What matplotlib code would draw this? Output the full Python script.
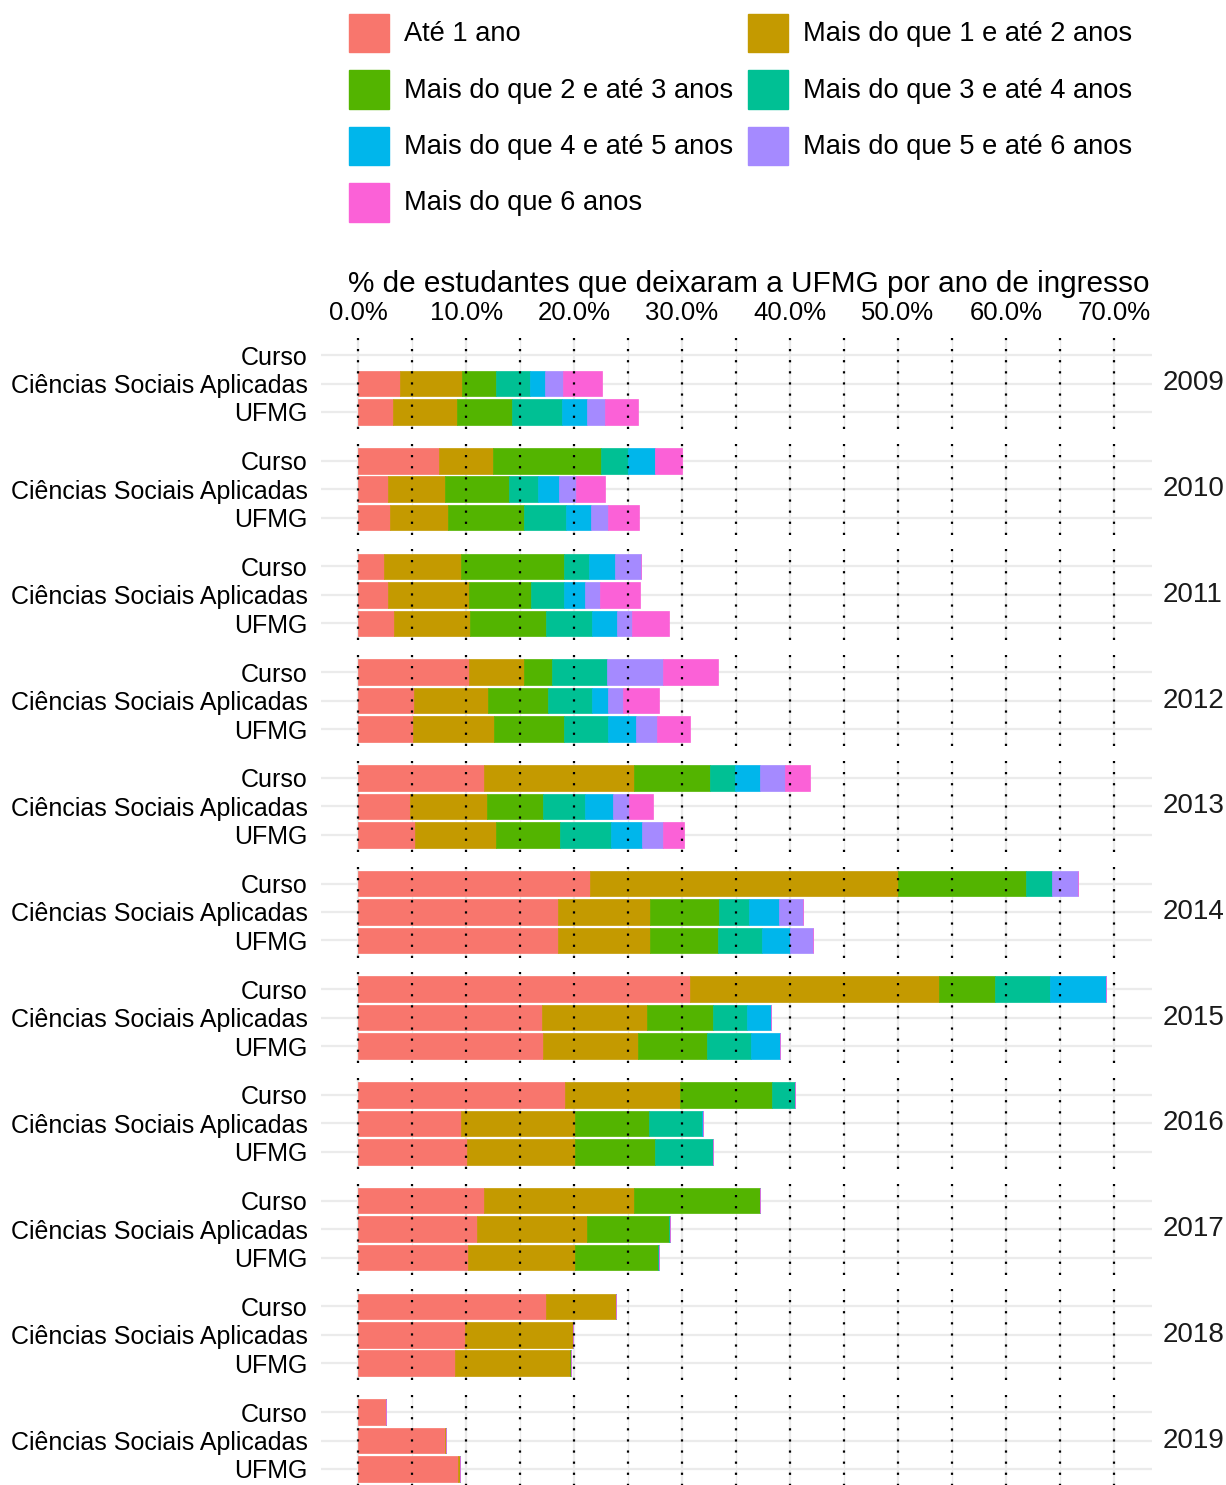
import numpy as np
import matplotlib
matplotlib.use("Agg")
import matplotlib.pyplot as plt
from matplotlib.patches import Rectangle

plt.rcParams['font.family'] = ['Liberation Sans', 'DejaVu Sans']

nan = np.nan

anos = [2009, 2010, 2011, 2012, 2013, 2014, 2015, 2016, 2017, 2018, 2019]
grupos = ["Curso", "Ciências Sociais Aplicadas", "UFMG"]
faixas = ["Até 1 ano", "Mais do que 1 e até 2 anos", "Mais do que 2 e até 3 anos",
          "Mais do que 3 e até 4 anos", "Mais do que 4 e até 5 anos",
          "Mais do que 5 e até 6 anos", "Mais do que 6 anos"]
cores = ["#F8766D", "#C49A00", "#53B400", "#00C094", "#00B6EB", "#A58AFF", "#FB61D7"]

# % por ano de ingresso; ordem: (Curso, CSA, UFMG) para cada ano
ate_1 = [nan, 3.86, 3.21,  7.50, 2.75, 2.93,  2.38, 2.75, 3.30,  10.26, 5.15, 5.06,
         11.63, 4.78, 5.25,  21.43, 18.49, 18.49,  30.77, 17.01, 17.10,
         19.15, 9.51, 10.09,  11.63, 10.99, 10.15,  17.39, 9.88, 8.95,  2.56, 8.02, 9.23]
de_1_a_2 = [nan, 5.74, 5.93,  5.00, 5.28, 5.37,  7.14, 7.50, 7.04,  5.13, 6.85, 7.50,
            13.95, 7.13, 7.50,  28.57, 8.52, 8.52,  23.08, 9.72, 8.80,
            10.64, 10.55, 9.97,  13.95, 10.19, 9.91,  6.52, 10.00, 10.65,  0, 0.15, 0.15]
de_2_a_3 = [nan, 3.15, 5.06,  10.00, 5.96, 7.04,  9.52, 5.74, 7.04,  2.56, 5.56, 6.48,
            6.98, 5.22, 5.92,  11.90, 6.39, 6.29,  5.13, 6.11, 6.38,
            8.51, 6.85, 7.41,  11.63, 7.59, 7.68,  0, 0, 0.10,  0, 0, 0]
de_3_a_4 = [nan, 3.15, 4.66,  2.50, 2.65, 3.89,  2.38, 3.05, 4.26,  5.13, 4.07, 4.07,
            2.33, 3.89, 4.72,  2.38, 2.80, 4.08,  5.13, 3.15, 4.14,
            2.13, 4.91, 5.43,  0, 0.15, 0.10,  0, 0, 0,  0, 0, 0]
de_4_a_5 = [nan, 1.39, 2.31,  2.50, 1.94, 2.31,  2.38, 1.95, 2.31,  0, 1.48, 2.59,
            2.33, 2.56, 2.87,  0, 2.78, 2.62,  5.13, 2.28, 2.65,
            0, 0.10, 0,  0, 0, 0,  0, 0, 0,  0, 0, 0]
de_5_a_6 = [nan, 1.67, 1.73,  0, 1.57, 1.57,  2.38, 1.39, 1.39,  5.13, 1.39, 1.98,
            2.33, 1.51, 1.98,  2.38, 2.22, 2.16,  0, 0, 0,
            0, 0, 0,  0, 0, 0,  0, 0, 0,  0, 0, 0]
mais_6 = [nan, 3.61, 3.00,  2.50, 2.69, 2.87,  0, 3.70, 3.43,  5.13, 3.33, 3.02,
          2.33, 2.19, 1.91,  0, 0, 0,  0, 0, 0,
          0, 0, 0,  0, 0, 0,  0, 0, 0,  0, 0, 0]

series = [ate_1, de_1_a_2, de_2_a_3, de_3_a_4, de_4_a_5, de_5_a_6, mais_6]
ticks_x = [0, 10, 20, 30, 40, 50, 60, 70]

W, H = 1226, 1485
fig = plt.figure(figsize=(W / 100, H / 100), dpi=100)
fs = 18

px_left, px_w = 320.5, 831
panel_h, passo, topo0 = 91, 105.7, 338

for i, ano in enumerate(anos):
    top = topo0 + i * passo
    ax = fig.add_axes([px_left / W, 1 - (top + panel_h) / H, px_w / W, panel_h / H])
    ax.set_xlim(-3.5, 73.5)
    ax.set_ylim(3.6, 0.4)
    for s in ax.spines.values():
        s.set_visible(False)
    for x in range(0, 75, 5):
        ax.axvline(x, color="#EBEBEB", lw=1.6 if x % 10 == 0 else 1.0, zorder=0)
    for y in (1, 2, 3):
        ax.axhline(y, color="#EBEBEB", lw=1.6, zorder=0)

    ypos = np.array([1, 2, 3])
    left = np.zeros(3)
    for vals, cor in zip(series, cores):
        v = np.array(vals[3 * i:3 * i + 3], dtype=float)
        ok = ~np.isnan(v)
        ax.barh(ypos[ok], v[ok], left=left[ok], height=0.9, color=cor,
                edgecolor=cor, lw=0.5, zorder=2)
        left = left + np.nan_to_num(v)

    for x in range(0, 75, 5):
        ax.axvline(x, color="black", lw=1.6, ls=(0, (1, 4)), zorder=3)

    ax.set_yticks([1, 2, 3])
    ax.set_yticklabels(grupos, fontsize=fs)
    ax.tick_params(axis="y", length=0, pad=9)
    if i == 0:
        ax.xaxis.tick_top()
        ax.set_xticks(ticks_x)
        ax.set_xticklabels([f"{t:.1f}%" for t in ticks_x], fontsize=18.5)
        ax.tick_params(axis="x", length=0, pad=9)
    else:
        ax.set_xticks([])
    ax.text(1 + 11 / px_w, 0.5, str(ano), transform=ax.transAxes,
            ha="left", va="center", fontsize=20, color="#1A1A1A")

fig.text(749 / W, 1 - 284 / H, "% de estudantes que deixaram a UFMG por ano de ingresso",
         ha="center", va="center", fontsize=21.4)

# legenda (2 colunas, preenchida por linha)
for k, (rot, cor) in enumerate(zip(faixas, cores)):
    lin, col = k // 2, k % 2
    kx = [349, 748][col]
    cy = 33 + lin * 56.5
    fig.add_artist(Rectangle((kx / W, 1 - (cy + 19) / H), 40 / W, 38 / H,
                             transform=fig.transFigure, color=cor))
    fig.text((kx + 55) / W, 1 - (cy + 1) / H, rot, ha="left", va="center", fontsize=19.6)

fig.savefig("out.png", dpi=100)
